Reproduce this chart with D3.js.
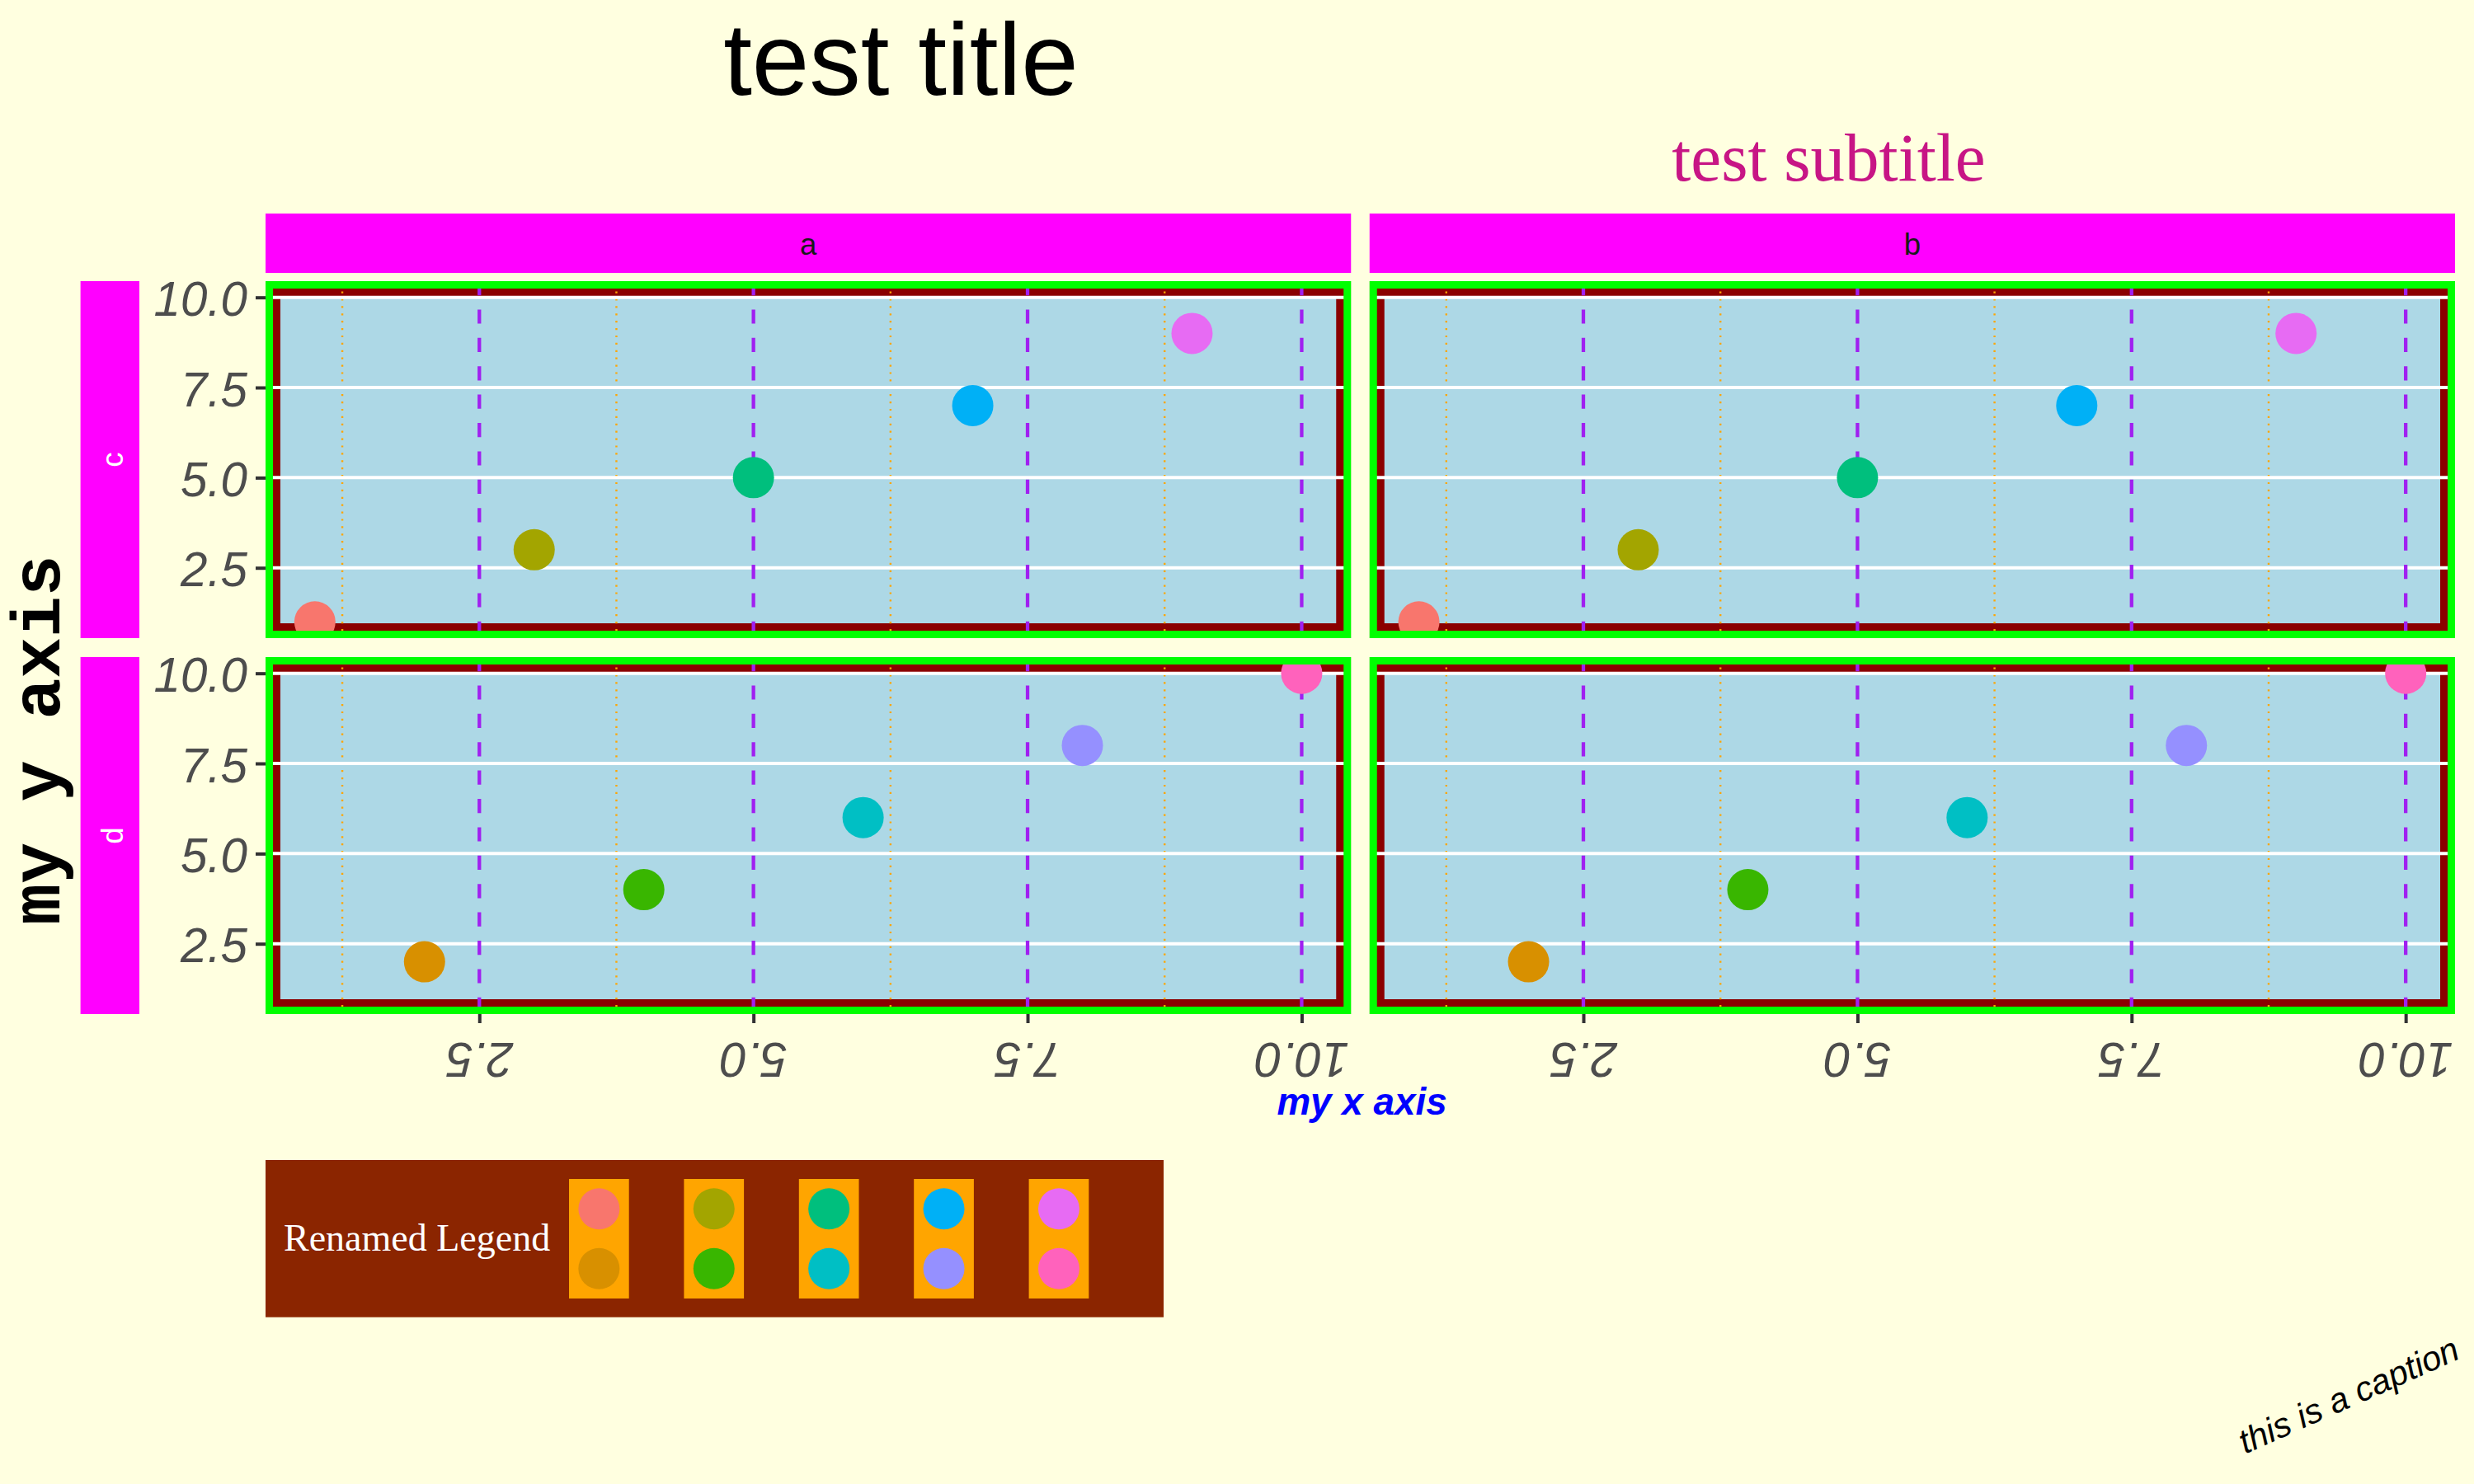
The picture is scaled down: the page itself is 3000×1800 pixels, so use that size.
<!DOCTYPE html>
<html>
<head>
<meta charset="utf-8">
<script src="https://cdn.jsdelivr.net/npm/d3@7/dist/d3.min.js"></script>
<style>
  body { margin: 0; background: #FFFFE0; }
</style>
</head>
<body>
<div id="chart"></div>
<script>
// data
var xValues = [1, 2, 3, 4, 5, 6, 7, 8, 9, 10];
var yValues = [1, 2, 3, 4, 5, 6, 7, 8, 9, 10];
var groupNames = ["1", "2", "3", "4", "5", "6", "7", "8", "9", "10"];
var rowOfPoint = ["c", "d", "c", "d", "c", "d", "c", "d", "c", "d"];
var colFacets = ["a", "b"];
var rowFacets = ["c", "d"];
var hueColors = ["#F8766D", "#D89000", "#A3A500", "#39B600", "#00BF7D",
                 "#00BFC4", "#00B0F6", "#9590FF", "#E76BF3", "#FF62BC"];
var majorTicks = [2.5, 5, 7.5, 10];
var minorXTicks = [1.25, 3.75, 6.25, 8.75];
var tickLabels = ["2.5", "5.0", "7.5", "10.0"];

var W = 3000, H = 1800;
var sans = "'Liberation Sans', Arial, sans-serif";
var serif = "'Liberation Serif', 'Times New Roman', serif";
var mono = "'Liberation Mono', 'Courier New', monospace";

var points = xValues.map(function(x, i) {
  return {x: x, y: yValues[i], group: groupNames[i], row: rowOfPoint[i], color: hueColors[i]};
});

var svg = d3.select("#chart").append("svg")
  .attr("width", W)
  .attr("height", H);

svg.append("rect")
  .attr("width", W)
  .attr("height", H)
  .attr("fill", "#FFFFE0");

// facet layout
var colBand = d3.scaleBand().domain(colFacets).range([322, 2977]).paddingInner(0.0168);
var rowBand = d3.scaleBand().domain(rowFacets).range([341, 1230]).paddingInner(0.0504);
var pw = colBand.bandwidth(), ph = rowBand.bandwidth();
var dom = [0.55, 10.45];

var defs = svg.append("defs");

colFacets.forEach(function(cf, ci) {
  rowFacets.forEach(function(rf, ri) {
    var x0 = colBand(cf), y0 = rowBand(rf);
    var xs = d3.scaleLinear().domain(dom).range([x0, x0 + pw]);
    var ys = d3.scaleLinear().domain(dom).range([y0 + ph, y0]);
    var id = "clip-" + cf + rf;
    defs.append("clipPath").attr("id", id)
      .append("rect").attr("x", x0).attr("y", y0).attr("width", pw).attr("height", ph);

    var g = svg.append("g").attr("clip-path", "url(#" + id + ")");
    // background: dark red frame around light blue
    g.append("rect").attr("x", x0).attr("y", y0).attr("width", pw).attr("height", ph)
      .attr("fill", "#8B0000");
    g.append("rect").attr("x", x0 + 18).attr("y", y0 + 18)
      .attr("width", pw - 36).attr("height", ph - 36)
      .attr("fill", "#ADD8E6");

    // minor x grid, orange dotted (drawn bottom to top)
    g.selectAll(".minx").data(minorXTicks).enter().append("line")
      .attr("x1", function(d) { return xs(d); })
      .attr("x2", function(d) { return xs(d); })
      .attr("y1", y0 + ph).attr("y2", y0)
      .attr("stroke", "#FFA500").attr("stroke-width", 2.4)
      .attr("stroke-dasharray", "2.2,6.7");

    // major y grid, white
    g.selectAll(".majy").data(majorTicks).enter().append("line")
      .attr("x1", x0).attr("x2", x0 + pw)
      .attr("y1", function(d) { return ys(d); })
      .attr("y2", function(d) { return ys(d); })
      .attr("stroke", "#FFFFFF").attr("stroke-width", 4);

    // major x grid, purple dashed
    g.selectAll(".majx").data(majorTicks).enter().append("line")
      .attr("x1", function(d) { return xs(d); })
      .attr("x2", function(d) { return xs(d); })
      .attr("y1", y0).attr("y2", y0 + ph)
      .attr("stroke", "#A020F0").attr("stroke-width", 4.3)
      .attr("stroke-dasharray", "17.2,17.2");

    // points
    g.selectAll("circle").data(points.filter(function(p) { return p.row === rf; }))
      .enter().append("circle")
      .attr("cx", function(d) { return xs(d.x); })
      .attr("cy", function(d) { return ys(d.y); })
      .attr("r", 25)
      .attr("fill", function(d) { return d.color; });

    // green border
    svg.append("rect").attr("x", x0 + 4.5).attr("y", y0 + 4.5)
      .attr("width", pw - 9).attr("height", ph - 9)
      .attr("fill", "none").attr("stroke", "#00FF00").attr("stroke-width", 9);

    // y axis on left column
    if (ci === 0) {
      var ya = svg.append("g").attr("transform", "translate(" + x0 + ",0)")
        .call(d3.axisLeft(ys).tickValues(majorTicks)
          .tickFormat(function(d, i) { return tickLabels[i]; })
          .tickSize(12).tickPadding(10));
      ya.select(".domain").remove();
      ya.selectAll(".tick line").attr("stroke", "#333333").attr("stroke-width", 4);
      ya.selectAll(".tick text")
        .attr("dy", "0.38em")
        .attr("fill", "#4D4D4D")
        .style("font-family", sans)
        .style("font-style", "italic")
        .style("font-size", "58.3px");
    }
    // x axis on bottom row
    if (ri === rowFacets.length - 1) {
      var xa = svg.append("g").attr("transform", "translate(0," + (y0 + ph) + ")")
        .call(d3.axisBottom(xs).tickValues(majorTicks)
          .tickFormat(function(d, i) { return tickLabels[i]; })
          .tickSize(11));
      xa.select(".domain").remove();
      xa.selectAll(".tick line").attr("stroke", "#333333").attr("stroke-width", 4);
      xa.selectAll(".tick text")
        .attr("y", 0).attr("dy", 0)
        .attr("transform", "translate(0,35) rotate(180)")
        .attr("fill", "#4D4D4D")
        .style("font-family", sans)
        .style("font-style", "italic")
        .style("font-size", "58.3px");
    }
  });
});

// top strips
colFacets.forEach(function(cf) {
  svg.append("rect").attr("x", colBand(cf)).attr("y", 259)
    .attr("width", pw).attr("height", 72).attr("fill", "#FF00FF");
  svg.append("text").attr("x", colBand(cf) + pw / 2).attr("y", 308.5)
    .attr("text-anchor", "middle").attr("fill", "#1A1A1A")
    .style("font-family", sans).style("font-size", "36.7px")
    .text(cf);
});

// left strips
rowFacets.forEach(function(rf) {
  svg.append("rect").attr("x", 97.6).attr("y", rowBand(rf))
    .attr("width", 71.4).attr("height", ph).attr("fill", "#FF00FF");
  svg.append("text")
    .attr("transform", "translate(148.5," + (rowBand(rf) + ph / 2) + ") rotate(-90)")
    .attr("text-anchor", "middle").attr("fill", "#FFFFFF")
    .style("font-family", sans).style("font-size", "36.7px")
    .text(rf);
});

// titles
svg.append("text").attr("x", 1092.5).attr("y", 115)
  .attr("text-anchor", "middle").attr("fill", "#000000")
  .style("font-family", sans).style("font-size", "125px")
  .text("test title");

svg.append("text").attr("x", 2217.5).attr("y", 219.3)
  .attr("text-anchor", "middle").attr("fill", "#C71585")
  .style("font-family", serif).style("font-size", "83px")
  .text("test subtitle");

svg.append("text").attr("x", 1651.5).attr("y", 1351.7)
  .attr("text-anchor", "middle").attr("fill", "#0000FF")
  .style("font-family", sans).style("font-size", "45.8px")
  .style("font-weight", "bold").style("font-style", "italic")
  .text("my x axis");

svg.append("text")
  .attr("transform", "translate(72,897.5) rotate(-90)")
  .attr("text-anchor", "middle").attr("fill", "#000000")
  .style("font-family", mono).style("font-size", "83px")
  .style("font-weight", "bold")
  .text("my y axis");

// legend
var lg = svg.append("g");
lg.append("rect").attr("x", 322).attr("y", 1407)
  .attr("width", 1089).attr("height", 190.7).attr("fill", "#8B2500");
lg.append("text").attr("x", 344).attr("y", 1516.7)
  .attr("fill", "#FFFFFF")
  .style("font-family", serif).style("font-size", "46px")
  .text("Renamed Legend");

var keyCol = d3.scaleLinear().domain([0, 4]).range([690, 690 + 4 * 139.4]);
var keyW = 72.7, keyH = 72.5;
var nCols = Math.ceil(points.length / 2);
// one orange background per column (two keys stacked)
lg.selectAll(".keybg").data(d3.range(nCols)).enter().append("rect")
  .attr("x", function(c) { return keyCol(c); })
  .attr("y", 1430)
  .attr("width", keyW).attr("height", keyH * 2)
  .attr("fill", "#FFA500");
lg.selectAll(".keydot").data(points).enter().append("circle")
  .attr("cx", function(d, i) { return keyCol(Math.floor(i / 2)) + keyW / 2; })
  .attr("cy", function(d, i) { return 1430 + (i % 2) * keyH + keyH / 2; })
  .attr("r", 25)
  .attr("fill", function(d) { return d.color; });

// caption
svg.append("text")
  .attr("transform", "translate(2985,1647) rotate(-24)")
  .attr("text-anchor", "end").attr("fill", "#000000")
  .style("font-family", sans).style("font-size", "41.7px")
  .style("font-style", "italic")
  .text("this is a caption");
</script>
</body>
</html>
